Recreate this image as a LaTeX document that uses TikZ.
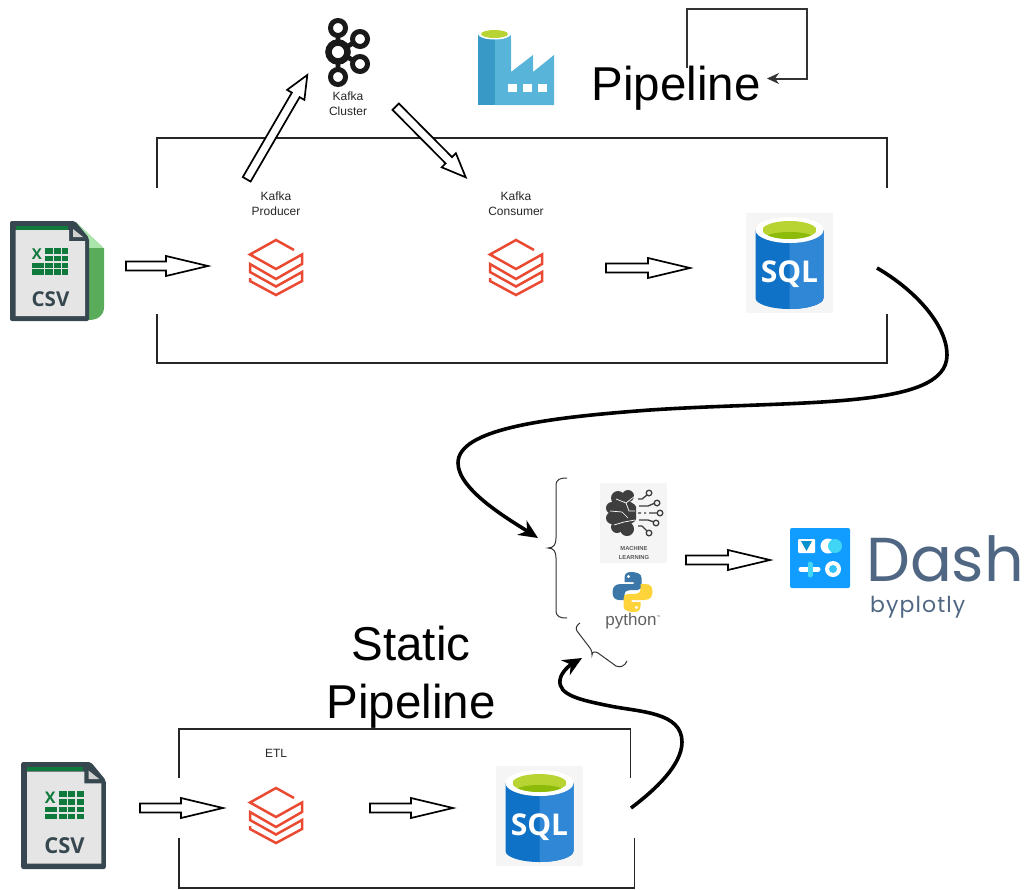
\documentclass[tikz,border=0pt]{standalone}
\usepackage{fontspec}
\usetikzlibrary{arrows.meta,calc}
\setmainfont{Liberation Sans}
\newfontfamily\iconfont{Open Sans}
\newfontfamily\dashfont{Poppins}
\definecolor{csvdark}{HTML}{37474F}
\definecolor{csvgreen}{HTML}{0F7A3C}
\definecolor{brickred}{HTML}{EA4A32}
\definecolor{sqlblue}{HTML}{0F72C6}
\definecolor{sqllight}{HTML}{2F87D6}
\definecolor{limeA}{HTML}{B8D432}
\definecolor{limeB}{HTML}{8DBB0A}
\definecolor{adfdark}{HTML}{3999C6}
\definecolor{adflight}{HTML}{59B4D9}
\definecolor{brain}{HTML}{3E3E3E}
\definecolor{pyblue}{HTML}{3B77A8}
\definecolor{pyyellow}{HTML}{FFD43B}
\definecolor{dashblue}{HTML}{119DFF}
\definecolor{dashcyan}{HTML}{40D4F5}
\definecolor{dashgrey}{HTML}{506784}
\tikzset{
  smalltext/.style={font=\fontsize{12}{15}\selectfont,align=center,text=black!85,inner sep=0pt},
  bigtext/.style={font=\fontsize{47.5}{58}\selectfont,align=center,inner sep=0pt},
  framebox/.style={draw=black!85,line width=1.8pt,line join=miter},
  blockarrow/.style={draw=black,line width=1.7pt,fill=white,line join=miter,to path={
    -- ($(\tikztostart)!4.5pt!90:(\tikztotarget)$)
    -- ($($(\tikztotarget)!#1pt!(\tikztostart)$)!4.5pt!90:(\tikztotarget)$)
    -- ($($(\tikztotarget)!#1pt!(\tikztostart)$)!10pt!90:(\tikztotarget)$)
    -- (\tikztotarget)
    -- ($($(\tikztotarget)!#1pt!(\tikztostart)$)!10pt!-90:(\tikztotarget)$)
    -- ($($(\tikztotarget)!#1pt!(\tikztostart)$)!4.5pt!-90:(\tikztotarget)$)
    -- ($(\tikztostart)!4.5pt!-90:(\tikztotarget)$)
    -- cycle}},
  blockarrow/.default=42,
  curvearrow/.style={draw=black,line width=3.6pt,-{Stealth[length=19pt,width=17pt,inset=6pt]}},
  looparrow/.style={draw=black!80,line width=2pt,-{Stealth[length=12pt,width=11pt,inset=4pt]}},
  bracestyle/.style={draw=black!80,line width=1pt},
  csvback/.pic={
    \fill[green!25!white!90!black,rounded corners=1pt] (25.5,-50) -- (54.5,-23) -- (39.5,-23) -- cycle;
    \fill[green!50!black!65!white] (39,-23) -- (54.5,-23) -- (54.5,36) .. controls (54.5,45) and (48,49) .. (39,49) -- cycle;
  },
  csvpage/.pic={
    \fill[csvdark,rounded corners=2pt] (-39.5,-50) -- (25.5,-50) -- (39.5,-33) -- (39.5,50) -- (-39.5,50) -- cycle;
    \fill[black!10] (-34,-41) -- (19.5,-41) -- (19.5,-30) -- (35.5,-30) -- (35.5,45) -- (-34,45) -- cycle;
    \fill[csvgreen] (-34,-45) rectangle (18,-41.5);
    \fill[black!18] (23.5,-42) -- (23.5,-34) -- (33.5,-34) -- cycle;
    \node[font=\iconfont\bfseries\fontsize{15}{15}\selectfont,text=csvgreen,inner sep=0pt,transform shape] (csvx) at (-12.5,-16.5) {X};
    \foreach \rowa/\rowb in {-22.7/-17,-15.3/-10,-8.3/-3,-1.7/3.7}
      \foreach \cola/\colb in {-4.5/3.2,4.5/11.2,12.8/18.8}
        \fill[csvgreen] (\cola,\rowa) rectangle (\colb,\rowb);
    \foreach \rowa/\rowb in {-8.3/-3,-1.7/3.7}
      \fill[csvgreen] (-17.2,\rowa) rectangle (-6,\rowb);
    \node[font=\iconfont\bfseries\fontsize{20.5}{21}\selectfont,text=csvdark,inner sep=0pt,transform shape] (csvtext) at (1,28) {CSV};
  },
  bricks/.pic={
    \draw[brickred,line width=2.5pt,line join=miter] (18,-17) -- (0,-27) -- (-26,-12.5) -- (0,2) -- (26,-12.5) -- (26,-3) -- (0,12)
      -- (-26,-3) -- (-26,5) -- (0,19.5) -- (26,5) -- (26,14) -- (0,28) -- (-26,14) -- (-26,11);
  },
  sqlicon/.pic={
    \fill[black!4] (-43.5,-50) rectangle (43.5,50);
    \fill[sqlblue] (-34,-33) -- (-34,35) arc[start angle=180,end angle=0,x radius=34,y radius=11] -- (34,-33) -- cycle;
    \fill[sqllight] (0,-33) -- (0,46) arc[start angle=90,end angle=0,x radius=34,y radius=11] -- (34,-33) -- cycle;
    \fill[white] (0,-33) ellipse[x radius=34,y radius=13];
    \begin{scope}
      \clip (0,-33) ellipse[x radius=27,y radius=9];
      \fill[limeA] (-27,-42) rectangle (27,-24);
      \fill[limeB] (0,-26) ellipse[x radius=23,y radius=5];
    \end{scope}
    \node[font=\iconfont\bfseries\fontsize{30}{30}\selectfont,text=white,inner sep=0pt] (sqltext) at (0,11) {SQL};
  },
  adficon/.pic={
    \fill[adflight] (511,72) -- (533,55) -- (533,72) -- (554,55) -- (554,105) -- (495,105) -- (495,40) -- (511,40) -- cycle;
    \fill[adfdark] (478,34) -- (478,105) -- (495,105) -- (495,34) -- cycle;
    \fill[adflight] (495,34) -- (511,34) -- (511,60) -- (495,60) -- cycle;
    \fill[white] (494.5,34) ellipse[x radius=16.5,y radius=5.5];
    \fill[limeA] (494.5,34) ellipse[x radius=13.5,y radius=4];
    \foreach \winx in {508,523,538}
      \fill[white] (\winx,84) rectangle ++(9,8);
  },
  kafkaicon/.pic={
    \draw[black!90,line width=4.8pt] (338,28) -- (338,77) (338,52) -- (360,39) (338,52) -- (360,64);
    \fill[white] (338,52) circle[radius=9];
    \draw[black!90,line width=6.5pt] (338,52) circle[radius=9.5];
    \foreach \ringx/\ringy in {338/28,338/77,360/39,360/64}{
      \fill[white] (\ringx,\ringy) circle[radius=7.5];
      \draw[black!90,line width=5pt] (\ringx,\ringy) circle[radius=7.5];
    }
  },
  mlicon/.pic={
    \fill[black!4] (-34,-40) rectangle (33,40);
    \begin{scope}
      \clip (-30,-36) rectangle (2,16);
      \foreach \blobx/\bloby/\blobr in {-6/-27/6,-16/-25/7,-22/-15/6,-22/-5/6,-17/4/6,-7/6/7,-8/-10/12}
        \fill[brain] (\blobx,\bloby) circle[radius=\blobr];
    \end{scope}
    \draw[white,line width=.7pt] (-18,-24) -- (-8,-20) -- (1,-27) (-24,-12) -- (-12,-11) -- (-6,-5) (-20,2) -- (-10,-1) -- (1,-3) (-8,-20) -- (-5,-12) -- (1,-12);
    \draw[brain,line width=1.3pt] (4,-24) -- (8,-24) -- (13,-28) (5,-17) -- (14,-17) -- (21,-20) (4,-10) -- (7,-10) (10,-10) -- (12,-10) (15,-10) -- (23,-10)
      (5,-3) -- (14,-3) -- (20,-1) (4,3) -- (8,3) -- (13,8);
    \foreach \ringx/\ringy in {15/-30,23/-20,26/-10,22/0,15/10}
      \draw[brain,line width=1.3pt] (\ringx,\ringy) circle[radius=2.8];
    \node[font=\bfseries\fontsize{5.8}{9}\selectfont,text=black!65,align=center,inner sep=0pt] (mltext) at (0,29.5) {MACHINE\\LEARNING};
  },
  pyicon/.pic={
    \foreach \snakeangle/\snakecolor in {0/pyblue,180/pyyellow}{
      \begin{scope}[rotate=\snakeangle]
        \fill[\snakecolor] (-1.5,-20) .. controls (-6,-20) and (-8,-18) .. (-8,-14) -- (-8,-10) -- (1,-10) -- (1,-8) -- (-12,-8)
          .. controls (-18,-8) and (-20,-4) .. (-20,0) .. controls (-20,5) and (-18,8) .. (-13,8) -- (-8,8) -- (-8,3)
          .. controls (-8,-1) and (-5,-2) .. (-2,-2) -- (5,-2) .. controls (8,-2) and (9,-4) .. (9,-7) -- (9,-14)
          .. controls (9,-18) and (5,-20) .. (-1.5,-20) -- cycle;
        \fill[white] (-4,-15.5) circle[radius=1.6];
      \end{scope}
    }
  },
  dashicon/.pic={
    \fill[dashblue,rounded corners=2pt] (790,528) rectangle (850,588);
    \fill[white,rounded corners=1pt] (798,539) rectangle (815,553);
    \fill[dashblue!60!teal] (801,541) -- (812,541) -- (806.5,551) -- cycle;
    \fill[white] (828,546) circle[radius=7.5];
    \fill[dashcyan] (835,546) circle[radius=7];
    \draw[white,line width=5pt,line cap=round] (801,569) -- (818,569);
    \draw[dashcyan,line width=5pt,line cap=round] (810,564) -- (810,575);
    \fill[white] (833,569) circle[radius=8];
    \fill[dashcyan!70!dashblue] (833,569) circle[radius=4];
  }
}
\begin{document}
\begin{tikzpicture}[x=1pt,y=-1pt]
    \useasboundingbox (0,0) rectangle (1024,889);
    \coordinate (csvA) at (49.5,271);
    \coordinate (csvB) at (63.5,815.5);
    \coordinate (brickA) at (276,267);
    \coordinate (brickB) at (516,267);
    \coordinate (brickC) at (276,815);
    \coordinate (sqlA) at (789.5,263);
    \coordinate (sqlB) at (539.5,816);
    \coordinate (mlbox) at (634,523);
    \coordinate (pybox) at (632.5,592);
    \pic at (csvA) {csvback};
    \pic at (csvA) {csvpage};
    \pic[scale=1.07] at (csvB) {csvpage};
    \pic at (brickA) {bricks};
    \pic at (brickB) {bricks};
    \pic at (brickC) {bricks};
    \pic at (sqlA) {sqlicon};
    \pic at (sqlB) {sqlicon};
    \pic at (0,0) {adficon};
    \pic at (0,0) {kafkaicon};
    \pic at (mlbox) {mlicon};
    \pic at (pybox) {pyicon};
    \pic at (0,0) {dashicon};
    \node[font=\fontsize{17}{17}\selectfont,text=black!62,anchor=base,inner sep=0pt] (pytext) at (633,625) {python\raisebox{7pt}{\fontsize{4}{4}\selectfont ™}};
    \node[font=\dashfont\fontsize{62}{62}\selectfont,text=dashgrey,anchor=base west,inner sep=0pt] (dashtext) at (866,581) {Dash};
    \node[font=\dashfont\fontsize{22}{22}\selectfont\addfontfeature{LetterSpace=5},text=dashgrey,anchor=base west,inner sep=0pt] (plotlytext) at (870,612) {byplotly};
    \node[smalltext] (producer) at (276,203.5) {Kafka\\Producer};
    \node[smalltext] (consumer) at (516,203.5) {Kafka\\Consumer};
    \node[smalltext] (cluster) at (348,103.5) {Kafka\\Cluster};
    \node[smalltext] (etl) at (276,753) {ETL};
    \node[bigtext] (pipeline) at (676,88) {Pipeline};
    \node[bigtext] (static) at (411,677) {Static\\Pipeline};
    \draw[framebox] (157,188) |- (887,138) -- (887,188);
    \draw[framebox] (157,314) |- (887,363) -- (887,314);
    \draw[framebox] (179,778) |- (630.5,729) -- (630.5,778);
    \draw[framebox] (179,838) |- (634.5,888) -- (634.5,838);
    \coordinate (loopstart) at (686.5,68);
    \coordinate (loopturn) at (806.5,8.5);
    \coordinate (loopend) at (767,78.5);
    \draw[looparrow] (loopstart) |- (loopturn) |- (loopend);
    \coordinate (csvAout) at (126,266);
    \coordinate (brickAin) at (208,266);
    \coordinate (brickBout) at (606,268);
    \coordinate (sqlAin) at (690,268);
    \coordinate (brickAup) at (246.7,179.3);
    \coordinate (clusterin) at (307.3,75);
    \coordinate (clusterout) at (395.7,106.7);
    \coordinate (consumerin) at (465.7,177.3);
    \coordinate (mlout) at (686,560);
    \coordinate (dashin) at (770,560);
    \coordinate (csvBout) at (140,808);
    \coordinate (brickCin) at (223,808);
    \coordinate (brickCout) at (370,808);
    \coordinate (sqlBin) at (453,808);
    \draw[blockarrow] (csvAout) to (brickAin);
    \draw[blockarrow] (brickBout) to (sqlAin);
    \draw[blockarrow=23] (brickAup) to (clusterin);
    \draw[blockarrow=24] (clusterout) to (consumerin);
    \draw[blockarrow] (mlout) to (dashin);
    \draw[blockarrow] (csvBout) to (brickCin);
    \draw[blockarrow] (brickCout) to (sqlBin);
    \coordinate (sqlAout) at (877,268);
    \coordinate (braceAin) at (538,538);
    \coordinate (sqlBout) at (631,808);
    \coordinate (braceBin) at (582,658);
    \draw[curvearrow] (sqlAout) .. controls (915,290) and (947,325) .. (947,355) .. controls (947,410) and (800,400) .. (650,410)
        .. controls (540,418) and (458,430) .. (458,463) .. controls (458,490) and (510,520) .. (braceAin);
    \draw[curvearrow] (sqlBout) .. controls (655,790) and (682,765) .. (682,742) .. controls (682,712) and (640,712) .. (610,706)
        .. controls (580,700) and (558,695) .. (560,680) .. controls (561,672) and (570,665) .. (braceBin);
    \draw[bracestyle] (567,478) .. controls (560,478) and (556,479) .. (556,486) -- (556,538) .. controls (556,544) and (554,548) .. (548,548)
        .. controls (554,548) and (556,552) .. (556,558) -- (556,610) .. controls (556,617) and (560,618) .. (567,618);
    \draw[bracestyle] (580,623) .. controls (577,625) and (575,628) .. (577,631) -- (590,648) .. controls (592,651) and (592,653) .. (592,655)
        .. controls (592,652) and (595,651) .. (598,653) -- (616,666) .. controls (620,668) and (625,666) .. (627,661);
\end{tikzpicture}
\end{document}
